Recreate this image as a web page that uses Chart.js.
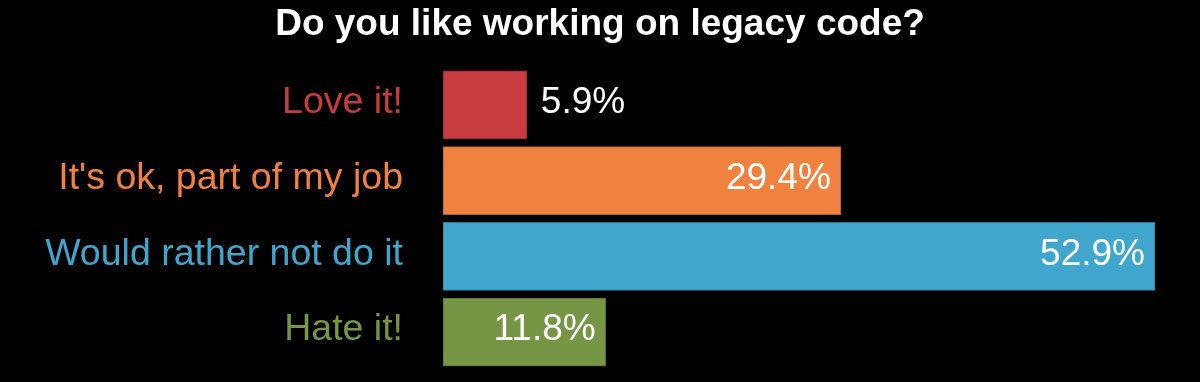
<!DOCTYPE html>
<html>
<head>
<meta charset="utf-8">
<script src="https://cdn.jsdelivr.net/npm/chart.js@4"></script>
<style>
  html, body { margin: 0; padding: 0; background: #000; }
  #wrap { width: 1200px; height: 382px; }
</style>
</head>
<body>
<div id="wrap"><canvas id="c" width="1200" height="382"></canvas></div>
<script>
const categories = ["Love it!", "It's ok, part of my job", "Would rather not do it", "Hate it!"];
const values = [5.9, 29.4, 52.9, 11.8];
const valueLabels = ["5.9%", "29.4%", "52.9%", "11.8%"];
const title = "Do you like working on legacy code?";

const fillColors = ["#C83B3E", "#F08240", "#41A6CD", "#779645"];
const borderColors = ["#8E2A2C", "#B55F2E", "#2E7896", "#566E32"];
const FONT = "'Liberation Sans', Arial, sans-serif";

const labelPlugin = {
  id: 'labels',
  afterDatasetsDraw(chart) {
    const ctx = chart.ctx;
    const meta = chart.getDatasetMeta(0);
    const yScale = chart.scales.y;
    ctx.save();
    ctx.textBaseline = "middle";
    // category labels
    ctx.font = "37.5px " + FONT;
    ctx.textAlign = "right";
    categories.forEach((c, i) => {
      ctx.fillStyle = fillColors[i];
      ctx.fillText(c, chart.chartArea.left - 40, yScale.getPixelForValue(i) - 2);
    });
    // value labels
    ctx.font = "37px " + FONT;
    ctx.fillStyle = "#ffffff";
    meta.data.forEach((bar, i) => {
      const txt = valueLabels[i];
      const w = ctx.measureText(txt).width;
      const barW = bar.x - bar.base;
      if (barW > w + 20) {
        ctx.textAlign = "right";
        ctx.fillText(txt, bar.x - 10, bar.y - 2);
      } else {
        ctx.textAlign = "left";
        ctx.fillText(txt, bar.x + 14, bar.y - 2);
      }
    });
    ctx.restore();
  }
};

new Chart(document.getElementById('c'), {
  type: 'bar',
  data: {
    labels: categories,
    datasets: [{
      data: values,
      backgroundColor: fillColors,
      borderColor: borderColors,
      borderWidth: 1,
      borderSkipped: false,
      barThickness: 68,
      base: -0.37
    }]
  },
  options: {
    indexAxis: 'y',
    responsive: false,
    animation: false,
    devicePixelRatio: 1,
    layout: { padding: { left: 0, right: 0, top: 0, bottom: 12 } },
    plugins: {
      legend: { display: false },
      tooltip: { enabled: false },
      title: {
        display: true,
        text: title,
        color: '#ffffff',
        font: { family: FONT, size: 37, weight: 'bold' },
        padding: { top: 3, bottom: 19.6 }
      }
    },
    scales: {
      x: {
        display: false,
        min: -0.37,
        max: 56.27
      },
      y: {
        grid: { display: false, drawTicks: false },
        border: { display: false },
        ticks: { display: false, padding: 0 },
        afterFit(scale) { scale.width = 443; }
      }
    }
  },
  plugins: [labelPlugin, {
    id: 'bg',
    beforeDraw(chart) {
      const ctx = chart.ctx;
      ctx.save();
      ctx.fillStyle = '#000';
      ctx.fillRect(0, 0, chart.width, chart.height);
      ctx.restore();
    }
  }]
});
</script>
</body>
</html>
